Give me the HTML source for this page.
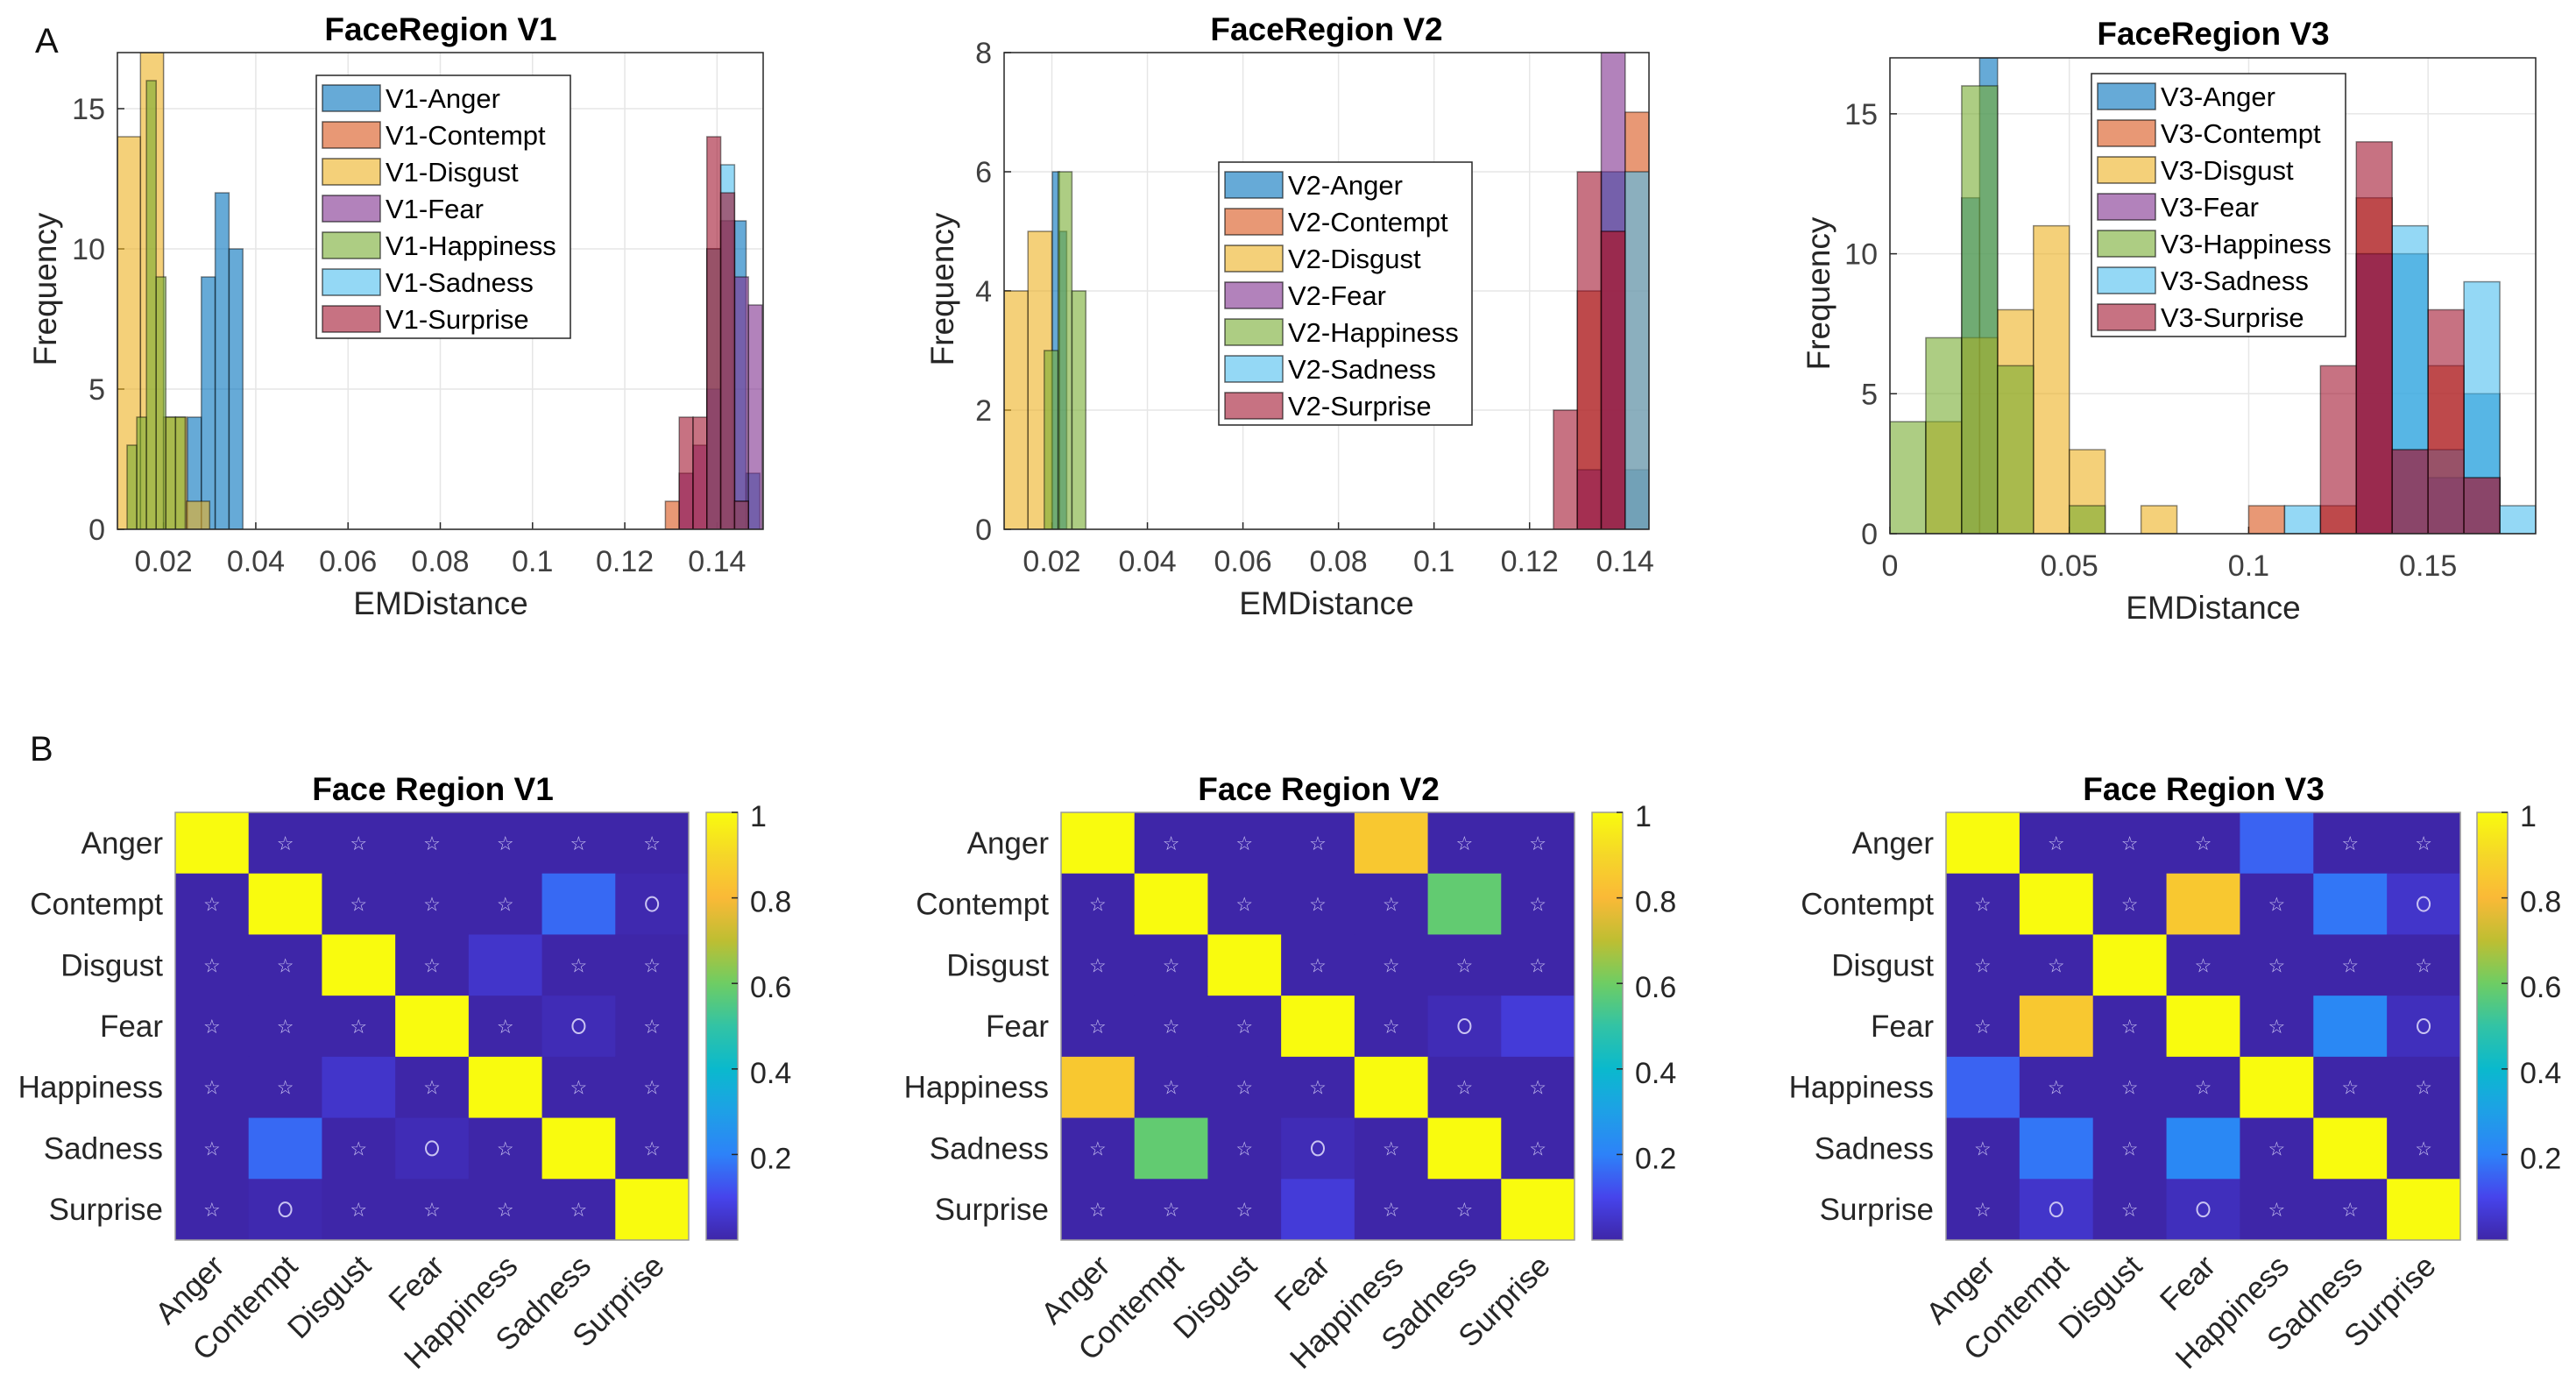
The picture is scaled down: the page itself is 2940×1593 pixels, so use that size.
<!DOCTYPE html>
<html><head><meta charset="utf-8">
<style>
html,body{margin:0;padding:0;background:#fff;}
svg{display:block;font-family:"Liberation Sans",Arial,sans-serif;}
</style></head>
<body>
<svg id="fig" width="2940" height="1593" viewBox="0 0 2940 1593" xmlns="http://www.w3.org/2000/svg">
<text x="40" y="60" font-size="40" fill="#111">A</text>
<text x="34" y="868" font-size="40" fill="#111">B</text>
</svg>
<script>
// ---------- Histogram data ----------
const emotions = ["Anger","Contempt","Disgust","Fear","Happiness","Sadness","Surprise"];
const histColors = ["#0072BD","#D95319","#EDB120","#7E2F8E","#77AC30","#4DBEEE","#A2142F"];

const v1Lefts = [
  [0.0252,0.0282,0.0312,0.0342,0.1433,0.1463],
  [0.1288,0.1378,0.1408],
  [0.010,0.015,0.020,0.025],
  [0.1318,0.1348,0.1378,0.1408,0.1438,0.1468],
  [0.0121,0.0142,0.0163,0.0184,0.0205,0.0226],
  [0.1378,0.1408,0.1438],
  [0.1318,0.1348,0.1378,0.1408,0.1438]
];
const v1Widths = [0.003,0.003,0.005,0.003,0.0021,0.003,0.003];
const v1Counts = [
  [4,9,12,10,11,2],
  [1,10,11],
  [14,17,4,1],
  [2,3,5,11,9,8],
  [3,4,16,9,4,4],
  [10,13,1],
  [4,4,14,12,1]
];

const v2Lefts = [
  [0.0201,0.0216,0.135,0.140],
  [0.130,0.135,0.140],
  [0.010,0.015],
  [0.130,0.135],
  [0.0184,0.0213,0.0242],
  [0.140],
  [0.125,0.130,0.135]
];
const v2Widths = [[0.0015,0.0015,0.005,0.005],0.005,0.005,0.005,0.0029,0.005,0.005];
const v2Counts = [
  [6,5,6,1],
  [4,5,7],
  [4,5],
  [1,8],
  [3,6,4],
  [6],
  [2,6,5]
];

const v3Lefts = [
  [0.02,0.025,0.13,0.14,0.15,0.16],
  [0.10,0.12,0.13,0.14,0.15,0.16],
  [0.01,0.02,0.03,0.04,0.05,0.07],
  [0.13,0.14,0.15,0.16],
  [0.00,0.01,0.02,0.03,0.05],
  [0.11,0.14,0.15,0.16,0.17],
  [0.12,0.13,0.14,0.15,0.16]
];
const v3Widths = [[0.005,0.005,0.01,0.01,0.01,0.01],0.01,0.01,0.01,0.01,0.01,0.01];
const v3Counts = [
  [12,17,10,10,2,5],
  [1,1,12,3,6,2],
  [4,7,8,11,3,1],
  [10,3,2,2],
  [4,7,16,6,1],
  [1,11,3,9,1],
  [6,14,3,8,2]
];

const xTicksA12 = [0.02,0.04,0.06,0.08,0.1,0.12,0.14];
const xTickLabelsA12 = ["0.02","0.04","0.06","0.08","0.1","0.12","0.14"];
const xTicksA3 = [0,0.05,0.1,0.15];
const xTickLabelsA3 = ["0","0.05","0.1","0.15"];
const yTicksA13 = [0,5,10,15];
const yTicksA2 = [0,2,4,6,8];

// ---------- Heatmap data ----------
const hmV1 = [
  [1,0,0,0,0,0,0],
  [0,1,0,0,0,0.16,0.01],
  [0,0,1,0,0.05,0,0],
  [0,0,0,1,0,0.02,0],
  [0,0,0.05,0,1,0,0],
  [0,0.16,0,0.02,0,1,0],
  [0,0.01,0,0,0,0,1]
];
const hmV1Marks = [
  "-sssss s".replace(" ",""),
  "s-sss-o",
  "ss-s-ss",
  "sss-sos",
  "ss-s-ss",
  "s-sos-s",
  "sossss-"
];
const hmV2 = [
  [1,0,0,0,0.85,0,0],
  [0,1,0,0,0,0.58,0],
  [0,0,1,0,0,0,0],
  [0,0,0,1,0,0.02,0.07],
  [0.85,0,0,0,1,0,0],
  [0,0.58,0,0.02,0,1,0],
  [0,0,0,0.07,0,0,1]
];
const hmV2Marks = [
  "-sss-ss",
  "s-sss-s",
  "ss-ssss",
  "sss-so-",
  "-sss-ss",
  "s-sos-s",
  "sss-ss-"
];
const hmV3 = [
  [1,0,0,0,0.15,0,0],
  [0,1,0,0.85,0,0.18,0.05],
  [0,0,1,0,0,0,0],
  [0,0.85,0,1,0,0.22,0.03],
  [0.15,0,0,0,1,0,0],
  [0,0.18,0,0.22,0,1,0],
  [0,0.05,0,0.03,0,0,1]
];
const hmV3Marks = [
  "-sss-ss",
  "s-s-s-o",
  "ss-ssss",
  "s-s-s-o",
  "-sss-ss",
  "s-s-s-s",
  "sososs-"
];
const cbTicks = [0.2,0.4,0.6,0.8,1];
const cbTickLabels = ["0.2","0.4","0.6","0.8","1"];

// ---------- helpers ----------
const NS = "http://www.w3.org/2000/svg";
const fig = document.getElementById("fig");
function mk(tag, attrs, parent){
  const e = document.createElementNS(NS, tag);
  for (const k in attrs) e.setAttribute(k, attrs[k]);
  (parent||fig).appendChild(e);
  return e;
}
function txt(s, attrs, parent){ const t = mk("text", attrs, parent); t.textContent = s; return t; }

const parulaStops = [
  [0,[62,38,168]],[0.1,[70,68,236]],[0.2,[45,130,248]],[0.3,[30,160,230]],
  [0.4,[10,185,205]],[0.5,[50,195,165]],[0.6,[110,205,100]],[0.7,[190,190,50]],
  [0.8,[250,185,55]],[0.9,[245,215,40]],[1,[249,251,14]]
];
function parula(v){
  v = Math.max(0, Math.min(1, v));
  for (let i=1;i<parulaStops.length;i++){
    const [a,ca]=parulaStops[i-1],[b,cb]=parulaStops[i];
    if (v<=b){ const t=(v-a)/(b-a); return "rgb("+ca.map((c,j)=>Math.round(c+(cb[j]-c)*t)).join(",")+")"; }
  }
  return "rgb(249,251,14)";
}

// ---------- histogram panel ----------
function histPanel(cfg){
  const g = mk("g", {});
  
  
  const {L,R,T,B,xmin,xmax,ymax} = cfg;
  const sx = v => L + (v - xmin) / (xmax - xmin) * (R - L);
  const sy = v => B - v / ymax * (B - T);
  // grid
  cfg.xTicks.forEach((t,i)=>{
    const gl = mk("line",{x1:sx(t),x2:sx(t),y1:T,y2:B,stroke:"#e6e6e6","stroke-width":1.5},g);
    
    
    const tl = txt(cfg.xTickLabels[i],{x:sx(t),y:B+48,"font-size":34,"text-anchor":"middle",fill:"#404040"},g);
    
    
    mk("line",{x1:sx(t),x2:sx(t),y1:B,y2:B-8,stroke:"#262626","stroke-width":1.5},g);
  });
  cfg.yTicks.forEach(t=>{
    const gl = mk("line",{x1:L,x2:R,y1:sy(t),y2:sy(t),stroke:"#e6e6e6","stroke-width":1.5},g);
    
    
    const tl = txt(String(t),{x:L-14,y:sy(t)+12,"font-size":34,"text-anchor":"end",fill:"#404040"},g);
    
    
    mk("line",{x1:L,x2:L+8,y1:sy(t),y2:sy(t),stroke:"#262626","stroke-width":1.5},g);
  });
  const cid = "clip-"+cfg.name;
  const cp = mk("clipPath",{id:cid},g);
  mk("rect",{x:L,y:T,width:R-L,height:B-T},cp);
  const bars = mk("g",{"clip-path":"url(#"+cid+")"},g);
  cfg.lefts.forEach((lefts,si)=>{
    const w = cfg.widths[si];
    lefts.forEach((lv,bi)=>{
      const bw = Array.isArray(w) ? w[bi] : w;
      const c = cfg.counts[si][bi];
      if (!c) return;
      const r = mk("rect",{x:sx(lv),y:sy(c),width:sx(lv+bw)-sx(lv),height:B-sy(c),
        fill:histColors[si],"fill-opacity":0.6,stroke:"#000","stroke-opacity":0.45,"stroke-width":1.5},bars);
      
      
    });
  });
  const box = mk("rect",{x:L,y:T,width:R-L,height:B-T,fill:"none",stroke:"#262626","stroke-width":1.5},g);
  
  
  const ti = txt(cfg.title,{x:cfg.titleX,y:cfg.titleY,"font-size":37,"font-weight":"bold","text-anchor":"middle",fill:"#000"},g);
  
  
  const xl = txt("EMDistance",{x:cfg.xlabelX,y:cfg.xlabelY,"font-size":37,"text-anchor":"middle",fill:"#262626"},g);
  
  
  const yl = txt("Frequency",{x:0,y:0,"font-size":37,"text-anchor":"middle",fill:"#262626",transform:"translate("+cfg.ylabelX+","+cfg.ylabelY+") rotate(-90)"},g);
  
  
  // legend
  const lg = mk("g",{},g);
  
  
  mk("rect",{x:cfg.legX,y:cfg.legY,width:cfg.legW,height:300,fill:"#fff",stroke:"#262626","stroke-width":1.5},lg);
  emotions.forEach((e,i)=>{
    const ey = cfg.legY + 26 + i*42;
    const en = mk("g",{},lg);
    
    
    mk("rect",{x:cfg.legX+7,y:ey-15,width:66,height:30,fill:histColors[i],"fill-opacity":0.6,stroke:"#000","stroke-opacity":0.6,"stroke-width":1.5},en);
    txt(cfg.prefix+"-"+e,{x:cfg.legX+79,y:ey+11,"font-size":31,fill:"#000"},en);
  });
}

histPanel({name:"histogram-v1",prefix:"V1",title:"FaceRegion V1",L:134,R:871,T:60,B:604,xmin:0.01,xmax:0.15,ymax:17,
  xTicks:xTicksA12,xTickLabels:xTickLabelsA12,yTicks:yTicksA13,lefts:v1Lefts,widths:v1Widths,counts:v1Counts,
  titleX:503,titleY:46,xlabelX:503,xlabelY:701,ylabelX:64,ylabelY:330,legX:361,legY:86,legW:290});
histPanel({name:"histogram-v2",prefix:"V2",title:"FaceRegion V2",L:1146,R:1882,T:60,B:604,xmin:0.01,xmax:0.145,ymax:8,
  xTicks:xTicksA12,xTickLabels:xTickLabelsA12,yTicks:yTicksA2,lefts:v2Lefts,widths:v2Widths,counts:v2Counts,
  titleX:1514,titleY:46,xlabelX:1514,xlabelY:701,ylabelX:1088,ylabelY:330,legX:1391,legY:185,legW:289});
histPanel({name:"histogram-v3",prefix:"V3",title:"FaceRegion V3",L:2157,R:2894,T:66,B:609,xmin:0,xmax:0.18,ymax:17,
  xTicks:xTicksA3,xTickLabels:xTickLabelsA3,yTicks:yTicksA13,lefts:v3Lefts,widths:v3Widths,counts:v3Counts,
  titleX:2526,titleY:51,xlabelX:2526,xlabelY:706,ylabelX:2088,ylabelY:335,legX:2387,legY:84,legW:290});

// ---------- heatmap panel ----------
let gradDone = false;
function heatPanel(cfg){
  const g = mk("g",{});
  
  
  const {L,R,T,B} = cfg;
  const n = emotions.length, cw = (R-L)/n, ch = (B-T)/n;
  const sx = i => L + i*cw, sy = i => T + i*ch;
  cfg.values.forEach((row,r)=>row.forEach((v,c)=>{
    const cell = mk("rect",{x:sx(c),y:sy(r),width:cw+0.5,height:ch+0.5,fill:parula(v)},g);
    
    
    const m = cfg.marks[r][c];
    if (m==="s"){
      const s = txt("☆",{x:sx(c)+cw/2,y:sy(r)+ch/2+8,"font-size":22,"text-anchor":"middle",fill:"#c9c3f2",
        "font-family":"DejaVu Sans, sans-serif"},g);
      
      
    } else if (m==="o"){
      const o = mk("ellipse",{cx:sx(c)+cw/2,cy:sy(r)+ch/2,rx:7,ry:8,fill:"none",stroke:"#c9c3f2","stroke-width":2},g);
      
      
    }
  }));
  mk("rect",{x:L,y:T,width:R-L,height:B-T,fill:"none",stroke:"#9a9a9a","stroke-width":1.5},g);
  emotions.forEach((e,i)=>{
    const yl = txt(e,{x:L-14,y:sy(i)+ch/2+12,"font-size":35,"text-anchor":"end",fill:"#262626"},g);
    
    
    const ax = sx(i)+cw/2+16, ay = B+32;
    const xl = txt(e,{x:ax,y:ay,"font-size":35,"text-anchor":"end",fill:"#262626",transform:"rotate(-45 "+ax+" "+ay+")"},g);
    
    
  });
  const ti = txt(cfg.title,{x:cfg.titleX,y:T-14,"font-size":37,"font-weight":"bold","text-anchor":"middle",fill:"#000"},g);
  
  
  // colorbar
  if (!gradDone){
    const defs = mk("defs",{});
    const lg = mk("linearGradient",{id:"parula",x1:0,y1:1,x2:0,y2:0},defs);
    for (let k=0;k<=20;k++) mk("stop",{offset:k/20,"stop-color":parula(k/20)},lg);
    gradDone = true;
  }
  const cb = mk("rect",{x:cfg.cbX,y:T,width:cfg.cbW,height:B-T,fill:"url(#parula)",stroke:"#9a9a9a","stroke-width":1.5},g);
  
  
  const cy = v => B - v*(B-T);
  cbTicks.forEach((t,i)=>{
    mk("line",{x1:cfg.cbX+cfg.cbW-7,x2:cfg.cbX+cfg.cbW,y1:cy(t),y2:cy(t),stroke:"#262626","stroke-width":1.5},g);
    const tl = txt(cbTickLabels[i],{x:cfg.cbX+cfg.cbW+14,y:cy(t)+16,"font-size":34,fill:"#262626"},g);
    
    
  });
}
heatPanel({name:"heatmap-v1",title:"Face Region V1",L:200,R:786,T:927,B:1415,values:hmV1,marks:hmV1Marks,titleX:494,cbX:806,cbW:36});
heatPanel({name:"heatmap-v2",title:"Face Region V2",L:1211,R:1797,T:927,B:1415,values:hmV2,marks:hmV2Marks,titleX:1505,cbX:1817,cbW:35});
heatPanel({name:"heatmap-v3",title:"Face Region V3",L:2221,R:2808,T:927,B:1415,values:hmV3,marks:hmV3Marks,titleX:2515,cbX:2827,cbW:35});
</script>
</body></html>
